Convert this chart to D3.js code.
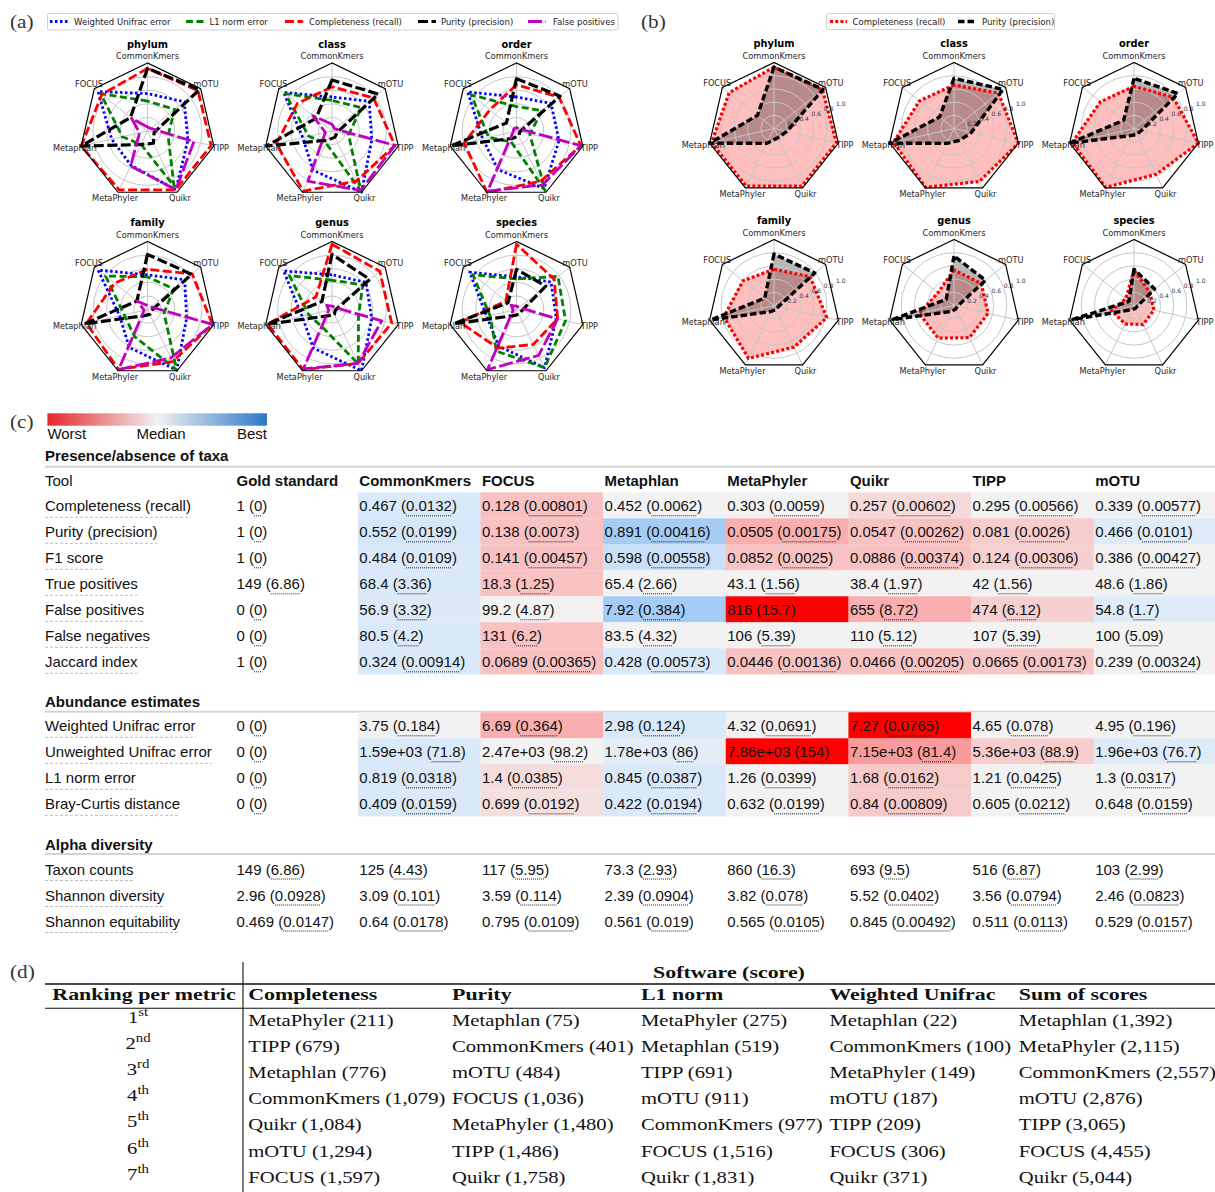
<!DOCTYPE html>
<html><head><meta charset="utf-8"><title>Taxonomic profiler benchmark</title>
<script src="https://cdn.jsdelivr.net/npm/d3@7"></script>
<style>
html,body{margin:0;padding:0;background:#fff;}
svg{display:block;}
</style></head>
<body>
<svg id="fig" width="1215" height="1192" xmlns="http://www.w3.org/2000/svg"></svg>
<script>
// ---------------- data ----------------
const tools = ["CommonKmers", "FOCUS", "Metaphlan", "MetaPhyler", "Quikr", "TIPP", "mOTU"];
const ranks = ["phylum", "class", "order", "family", "genus", "species"];

// (a) relative scores per rank (rows: ranks, columns: tools)
const weightedUnifracScore = [
  [0.55, 0.93, 0.54, 0.56, 0.96, 0.61, 0.69],
  [0.50, 0.91, 0.44, 0.64, 1.00, 0.60, 0.70],
  [0.50, 0.92, 0.51, 0.63, 0.94, 0.64, 0.65],
  [0.51, 0.93, 0.42, 0.62, 0.99, 0.59, 0.70],
  [0.51, 0.91, 0.45, 0.63, 1.00, 0.60, 0.64],
  [0.48, 0.88, 0.45, 0.60, 0.95, 0.60, 0.65]
];
const l1NormScore = [
  [0.44, 0.88, 0.38, 0.22, 0.90, 0.31, 0.51],
  [0.45, 0.88, 0.35, 0.20, 0.98, 0.25, 0.55],
  [0.36, 0.85, 0.42, 0.18, 0.97, 0.20, 0.48],
  [0.48, 0.79, 0.35, 0.44, 0.99, 0.25, 0.49],
  [0.43, 0.80, 0.35, 0.30, 0.89, 0.40, 0.58],
  [0.45, 0.82, 0.40, 0.68, 0.95, 0.74, 0.78]
];
const completenessScore = [
  [0.92, 0.86, 1.00, 0.96, 0.96, 0.96, 0.95],
  [0.65, 0.65, 0.84, 0.98, 0.82, 0.95, 0.78],
  [0.68, 0.50, 0.79, 1.00, 0.82, 0.97, 0.80],
  [0.59, 0.62, 0.92, 0.98, 0.85, 0.98, 0.84],
  [0.96, 0.30, 0.97, 0.98, 0.88, 0.90, 0.90],
  [0.96, 0.20, 0.85, 0.63, 0.57, 0.62, 0.71]
];
const purityScore = [
  [0.92, 0.32, 1.00, 0.22, 0.20, 0.10, 0.98],
  [0.75, 0.30, 0.99, 0.15, 0.10, 0.08, 0.87],
  [0.77, 0.19, 0.99, 0.12, 0.08, 0.05, 0.82],
  [0.81, 0.20, 0.95, 0.10, 0.08, 0.06, 0.83],
  [0.81, 0.19, 0.98, 0.10, 0.08, 0.05, 0.71],
  [0.59, 0.16, 0.95, 0.10, 0.08, 0.08, 0.55]
];
const falsePositiveScore = [
  [0.06, 0.30, 0.12, 0.57, 0.96, 0.70, 0.06],
  [0.10, 0.36, 0.10, 0.82, 0.97, 0.95, 0.05],
  [0.05, 0.05, 0.05, 0.98, 0.88, 0.97, 0.05],
  [0.06, 0.20, 0.05, 0.98, 0.79, 0.98, 0.06],
  [0.05, 0.10, 0.05, 0.97, 0.88, 0.75, 0.05],
  [0.05, 0.10, 0.05, 0.98, 0.75, 0.62, 0.05]
];

// (b) absolute completeness and purity per rank
const completenessAbs = [
  [0.93, 0.87, 0.97, 0.97, 0.97, 0.97, 0.94],
  [0.66, 0.67, 0.94, 0.99, 0.89, 1.00, 0.86],
  [0.64, 0.65, 0.96, 0.99, 0.77, 1.00, 0.76],
  [0.55, 0.60, 0.78, 0.89, 0.70, 0.82, 0.70],
  [0.54, 0.31, 0.54, 0.55, 0.54, 0.53, 0.53],
  [0.54, 0.16, 0.35, 0.31, 0.32, 0.31, 0.31]
];
const purityAbs = [
  [0.93, 0.32, 1.00, 0.25, 0.15, 0.20, 0.95],
  [0.76, 0.28, 1.00, 0.25, 0.20, 0.27, 0.95],
  [0.76, 0.20, 1.00, 0.12, 0.10, 0.12, 0.85],
  [0.78, 0.18, 0.98, 0.10, 0.07, 0.07, 0.79],
  [0.75, 0.15, 0.95, 0.10, 0.06, 0.05, 0.61],
  [0.55, 0.10, 0.95, 0.07, 0.05, 0.05, 0.40]
];
const gridLevels = [0.2, 0.4, 0.6, 0.8];
const radialTickLabels = ["0.2", "0.4", "0.6", "0.8", "1.0"];

// (c) summary table: mean and standard error, first column is the gold standard
const tableColumns = ["Gold standard", "CommonKmers", "FOCUS", "Metaphlan", "MetaPhyler", "Quikr", "TIPP", "mOTU"];
const presenceMetrics = ["Completeness (recall)", "Purity (precision)", "F1 score", "True positives", "False positives", "False negatives", "Jaccard index"];
const presenceMeans = [
  ["1", "0.467", "0.128", "0.452", "0.303", "0.257", "0.295", "0.339"],
  ["1", "0.552", "0.138", "0.891", "0.0505", "0.0547", "0.081", "0.466"],
  ["1", "0.484", "0.141", "0.598", "0.0852", "0.0886", "0.124", "0.386"],
  ["149", "68.4", "18.3", "65.4", "43.1", "38.4", "42", "48.6"],
  ["0", "56.9", "99.2", "7.92", "816", "655", "474", "54.8"],
  ["0", "80.5", "131", "83.5", "106", "110", "107", "100"],
  ["1", "0.324", "0.0689", "0.428", "0.0446", "0.0466", "0.0665", "0.239"]
];
const presenceErrors = [
  ["0", "0.0132", "0.00801", "0.0062", "0.0059", "0.00602", "0.00566", "0.00577"],
  ["0", "0.0199", "0.0073", "0.00416", "0.00175", "0.00262", "0.0026", "0.0101"],
  ["0", "0.0109", "0.00457", "0.00558", "0.0025", "0.00374", "0.00306", "0.00427"],
  ["6.86", "3.36", "1.25", "2.66", "1.56", "1.97", "1.56", "1.86"],
  ["0", "3.32", "4.87", "0.384", "15.7", "8.72", "6.12", "1.7"],
  ["0", "4.2", "6.2", "4.32", "5.39", "5.12", "5.39", "5.09"],
  ["0", "0.00914", "0.00365", "0.00573", "0.00136", "0.00205", "0.00173", "0.00324"]
];
// rank-based shading: -1 worst, 0 median, +1 best (tools only)
const presenceShade = [
  [0.5, -0.5, 0, 0, -0.25, 0, 0],
  [0.55, -0.5, 1, -0.55, -0.5, -0.4, 0.4],
  [0.5, -0.5, 0.65, -0.5, -0.5, -0.35, 0],
  [0.5, -0.5, 0, 0, 0, 0, 0],
  [0.45, 0, 1, -1, -0.55, -0.35, 0.4],
  [0.5, -0.5, 0, 0, 0, 0, 0],
  [0.5, -0.5, 0.5, -0.5, -0.5, -0.45, 0]
];
const abundanceMetrics = ["Weighted Unifrac error", "Unweighted Unifrac error", "L1 norm error", "Bray-Curtis distance"];
const abundanceMeans = [
  ["0", "3.75", "6.69", "2.98", "4.32", "7.27", "4.65", "4.95"],
  ["0", "1.59e+03", "2.47e+03", "1.78e+03", "7.86e+03", "7.15e+03", "5.36e+03", "1.96e+03"],
  ["0", "0.819", "1.4", "0.845", "1.26", "1.68", "1.21", "1.3"],
  ["0", "0.409", "0.699", "0.422", "0.632", "0.84", "0.605", "0.648"]
];
const abundanceErrors = [
  ["0", "0.184", "0.364", "0.124", "0.0691", "0.0765", "0.078", "0.196"],
  ["0", "71.8", "98.2", "86", "154", "81.4", "88.9", "76.7"],
  ["0", "0.0318", "0.0385", "0.0387", "0.0399", "0.0162", "0.0425", "0.0317"],
  ["0", "0.0159", "0.0192", "0.0194", "0.0199", "0.00809", "0.0212", "0.0159"]
];
const abundanceShade = [
  [0, -0.55, 0.5, 0, -1, 0, 0],
  [0.5, 0, 0.3, -1, -0.6, -0.4, 0.4],
  [0.5, -0.22, 0.5, 0, -0.42, 0, 0],
  [0.5, -0.2, 0.5, 0, -0.42, 0, 0]
];
const alphaMetrics = ["Taxon counts", "Shannon diversity", "Shannon equitability"];
const alphaMeans = [
  ["149", "125", "117", "73.3", "860", "693", "516", "103"],
  ["2.96", "3.09", "3.59", "2.39", "3.82", "5.52", "3.56", "2.46"],
  ["0.469", "0.64", "0.795", "0.561", "0.565", "0.845", "0.511", "0.529"]
];
const alphaErrors = [
  ["6.86", "4.43", "5.95", "2.93", "16.3", "9.5", "6.87", "2.99"],
  ["0.0928", "0.101", "0.114", "0.0904", "0.078", "0.0402", "0.0794", "0.0823"],
  ["0.0147", "0.0178", "0.0109", "0.019", "0.0105", "0.00492", "0.0113", "0.0157"]
];

// (d) ranking per metric: [tool, score]
const rankNumbers = ["1", "2", "3", "4", "5", "6", "7"];
const rankSuffixes = ["st", "nd", "rd", "th", "th", "th", "th"];
const rankingMetrics = ["Completeness", "Purity", "L1 norm", "Weighted Unifrac", "Sum of scores"];
const completenessRanking = [["MetaPhyler", 211], ["TIPP", 679], ["Metaphlan", 776], ["CommonKmers", 1079], ["Quikr", 1084], ["mOTU", 1294], ["FOCUS", 1597]];
const purityRanking = [["Metaphlan", 75], ["CommonKmers", 401], ["mOTU", 484], ["FOCUS", 1036], ["MetaPhyler", 1480], ["TIPP", 1486], ["Quikr", 1758]];
const l1Ranking = [["MetaPhyler", 275], ["Metaphlan", 519], ["TIPP", 691], ["mOTU", 911], ["CommonKmers", 977], ["FOCUS", 1516], ["Quikr", 1831]];
const unifracRanking = [["Metaphlan", 22], ["CommonKmers", 100], ["MetaPhyler", 149], ["mOTU", 187], ["TIPP", 209], ["FOCUS", 306], ["Quikr", 371]];
const sumRanking = [["Metaphlan", 1392], ["MetaPhyler", 2115], ["CommonKmers", 2557], ["mOTU", 2876], ["TIPP", 3065], ["FOCUS", 4455], ["Quikr", 5044]];

// ---------------- drawing ----------------
const SANS = "'Liberation Sans', Arial, sans-serif";
const MPL = "'DejaVu Sans', sans-serif";
const SERIF = "'Liberation Serif', 'Times New Roman', serif";
const svg = d3.select("#fig");
const N = tools.length;
const angleOf = i => -i * 2 * Math.PI / N;   // counter-clockwise, first axis at the top

// serif text, widened to the proportions of the typeset tables
function serif(g, x, y, str, o = {}) {
  const k = o.bold ? 1.37 : (o.scale || 1.29);
  return g.append("text")
    .attr("transform", `translate(${x},${y}) scale(${k},1)`)
    .attr("text-anchor", o.anchor || "start")
    .attr("font-family", SERIF)
    .attr("font-size", o.size || 16)
    .attr("font-weight", o.bold ? "bold" : "normal")
    .attr("fill", o.fill || "#111")
    .text(str);
}

// panel letters
[["(a)", 10, 28], ["(b)", 641, 28], ["(c)", 10, 428], ["(d)", 10, 978]].forEach(([t, x, y]) =>
  serif(svg, x, y, t, { size: 18, scale: 1.18, fill: "#333" }));

function radarBase(g, r, R) {
  g.selectAll("circle.grid").data(gridLevels).join("circle")
    .attr("class", "grid").attr("r", d => r(d))
    .attr("fill", "none").attr("stroke", "#c6c6c6").attr("stroke-width", 1);
  g.selectAll("line.spoke").data(tools).join("line")
    .attr("class", "spoke")
    .attr("x2", (d, i) => d3.pointRadial(angleOf(i), r(1))[0])
    .attr("y2", (d, i) => d3.pointRadial(angleOf(i), r(1))[1])
    .attr("stroke", "#c6c6c6").attr("stroke-width", 1);
}
function radarFrame(g, r, title) {
  const line = d3.lineRadial().angle((d, i) => angleOf(i)).radius(d => r(d)).curve(d3.curveLinearClosed);
  g.append("path").attr("d", line(tools.map(() => 1)))
    .attr("fill", "none").attr("stroke", "#000").attr("stroke-width", 1.2);
  g.selectAll("text.axis").data(tools).join("text")
    .attr("class", "axis")
    .attr("x", (d, i) => d3.pointRadial(angleOf(i), r(1.1))[0])
    .attr("y", (d, i) => d3.pointRadial(angleOf(i), r(1.1))[1])
    .attr("text-anchor", "middle").attr("dominant-baseline", "central")
    .attr("font-family", MPL).attr("font-size", 8.2).attr("fill", "#262626")
    .text(d => d);
  g.append("text").attr("y", -r(1.1) - 12).attr("text-anchor", "middle")
    .attr("dominant-baseline", "central")
    .attr("font-family", MPL).attr("font-weight", "bold").attr("font-size", 9.8)
    .attr("fill", "#000").text(title);
}
function radialPath(r) {
  return d3.lineRadial().angle((d, i) => angleOf(i)).radius(d => r(d)).curve(d3.curveLinearClosed);
}

// ----- panel (a)
const seriesA = [
  { name: "Weighted Unifrac error", values: weightedUnifracScore, color: "#0000ff", dash: "2.5,2.5", width: 2.8 },
  { name: "L1 norm error", values: l1NormScore, color: "#008000", dash: "7,3.5", width: 2.8 },
  { name: "Completeness (recall)", values: completenessScore, color: "#ff0000", dash: "9,3.5", width: 2.8 },
  { name: "Purity (precision)", values: purityScore, color: "#000000", dash: "10,3.5", width: 3.2 },
  { name: "False positives", values: falsePositiveScore, color: "#bf00bf", dash: "14,3.5", width: 2.8 }
];
const aCx = [147.5, 332, 516.5], aCy = [131, 309.5], aR = 68;
const rA = d3.scaleLinear().domain([0, 1]).range([0, aR]);
ranks.forEach((rank, k) => {
  const g = svg.append("g").attr("transform", `translate(${aCx[k % 3]},${aCy[Math.floor(k / 3)]})`);
  radarBase(g, rA, aR);
  seriesA.forEach(s => {
    g.append("path").attr("d", radialPath(rA)(s.values[k]))
      .attr("fill", "none").attr("stroke", s.color).attr("stroke-width", s.width)
      .attr("stroke-dasharray", s.dash).attr("stroke-linejoin", "round");
  });
  radarFrame(g, rA, rank);
});
// legend (a)
const legA = svg.append("g");
legA.append("rect").attr("x", 47.5).attr("y", 13.5).attr("width", 570.5).attr("height", 16.5)
  .attr("rx", 2).attr("fill", "#fff").attr("stroke", "#cfcfcf").attr("stroke-width", 1);
const legASample = [50, 186, 285, 418, 528], legAText = [74, 209.5, 309, 441, 553];
seriesA.forEach((s, i) => {
  legA.append("line").attr("x1", legASample[i]).attr("x2", legASample[i] + 18).attr("y1", 21.5).attr("y2", 21.5)
    .attr("stroke", s.color).attr("stroke-width", s.width).attr("stroke-dasharray", s.dash);
  legA.append("text").attr("x", legAText[i]).attr("y", 21.8).attr("dominant-baseline", "central")
    .attr("font-family", MPL).attr("font-size", 8.5).attr("fill", "#222").text(s.name);
});

// ----- panel (b)
const seriesB = [
  { name: "Completeness (recall)", values: completenessAbs, color: "#ff0000", fill: "rgba(255,0,0,0.25)", dash: "3,2.2", width: 3.2 },
  { name: "Purity (precision)", values: purityAbs, color: "#000000", fill: "rgba(0,0,0,0.28)", dash: "6.5,3", width: 3.4 }
];
const bCx = [774, 954, 1134], bCy = [128.5, 305.5], bR = 66;
const rB = d3.scaleLinear().domain([0, 1]).range([0, bR]);
ranks.forEach((rank, k) => {
  const g = svg.append("g").attr("transform", `translate(${bCx[k % 3]},${bCy[Math.floor(k / 3)]})`);
  seriesB.forEach(s => g.append("path").attr("d", radialPath(rB)(s.values[k])).attr("fill", s.fill).attr("stroke", "none"));
  radarBase(g, rB, bR);
  seriesB.forEach(s => {
    g.append("path").attr("d", radialPath(rB)(s.values[k]))
      .attr("fill", "none").attr("stroke", s.color).attr("stroke-width", s.width)
      .attr("stroke-dasharray", s.dash).attr("stroke-linejoin", "round");
  });
  const tickAngle = Math.PI / 2 - Math.PI / 8;
  radialTickLabels.forEach(t => {
    const p = d3.pointRadial(tickAngle, rB(+t));
    g.append("text").attr("x", p[0] + 1).attr("y", p[1]).attr("dominant-baseline", "central")
      .attr("font-family", MPL).attr("font-size", 6).attr("fill", "#333").text(t);
  });
  radarFrame(g, rB, rank);
});
const legB = svg.append("g");
legB.append("rect").attr("x", 826.5).attr("y", 13.5).attr("width", 228).attr("height", 16)
  .attr("rx", 2).attr("fill", "#fff").attr("stroke", "#cfcfcf").attr("stroke-width", 1);
const legBSample = [830, 958], legBText = [852.5, 982];
seriesB.forEach((s, i) => {
  legB.append("line").attr("x1", legBSample[i]).attr("x2", legBSample[i] + 17).attr("y1", 21.5).attr("y2", 21.5)
    .attr("stroke", s.color).attr("stroke-width", s.width).attr("stroke-dasharray", s.dash);
  legB.append("text").attr("x", legBText[i]).attr("y", 21.8).attr("dominant-baseline", "central")
    .attr("font-family", MPL).attr("font-size", 8.5).attr("fill", "#222").text(s.name);
});

// ----- panel (c)
const cellColor = d3.scaleLinear().domain([-1, -0.5, 0, 0.5, 1])
  .range(["#ff0000", "#f8c2c2", "#f2f2f2", "#dae9f9", "#a5ccf4"]);
const defs = svg.append("defs");
const grad = defs.append("linearGradient").attr("id", "rankbar");
[[0, "#e4262a"], [0.5, "#f2f2f2"], [1, "#2b78c9"]].forEach(([o, c]) =>
  grad.append("stop").attr("offset", o).attr("stop-color", c));
svg.append("rect").attr("x", 47.4).attr("y", 413.3).attr("width", 219.6).attr("height", 12.4).attr("fill", "url(#rankbar)");
const barLabels = [["Worst", 47.4, "start"], ["Median", 136.4, "start"], ["Best", 267, "end"]];
barLabels.forEach(([t, x, a]) => svg.append("text").attr("x", x).attr("y", 438.5).attr("text-anchor", a)
  .attr("font-family", SANS).attr("font-size", 15).attr("fill", "#111").text(t));

const colX = [236.5].concat(d3.range(7).map(i => 357.8 + i * 122.65));
const colW = 122.65;
const tbl = svg.append("g").attr("font-family", SANS).attr("font-size", 15).attr("fill", "#111");

function sectionHeader(title, baseline, ruleY) {
  tbl.append("text").attr("x", 45).attr("y", baseline).attr("font-weight", "bold").text(title);
  tbl.append("rect").attr("x", 45).attr("y", ruleY - 1).attr("width", 1170).attr("height", 2).attr("fill", "#d3d3d3");
}
function valueText(x, y, mean, err) {
  const t = tbl.append("text").attr("x", x).attr("y", y).text(`${mean} (${err})`);
  const pre = `${mean} (`.length;
  const node = t.node();
  const x0 = x + node.getSubStringLength(0, pre);
  const w = node.getSubStringLength(pre, err.length);
  tbl.append("line").attr("x1", x0).attr("x2", x0 + w).attr("y1", y + 4.5).attr("y2", y + 4.5)
    .attr("stroke", "#222").attr("stroke-width", 1).attr("stroke-dasharray", "1,1");
}
function labelText(y, str) {
  const t = tbl.append("text").attr("x", 45).attr("y", y).text(str);
  const w = t.node().getComputedTextLength();
  tbl.append("line").attr("x1", 45).attr("x2", 45 + w).attr("y1", y + 6).attr("y2", y + 6)
    .attr("stroke", "#bdbdbd").attr("stroke-width", 1).attr("stroke-dasharray", "3,2");
}
function bodyRows(top, metrics, means, errors, shade) {
  metrics.forEach((m, r) => {
    const y0 = top + r * 26;
    if (shade) shade[r].forEach((s, c) =>
      tbl.append("rect").attr("x", colX[c + 1]).attr("y", y0).attr("width", colW + 0.4).attr("height", 26.2)
        .attr("fill", cellColor(s)));
  });
  metrics.forEach((m, r) => {
    const yb = top + r * 26 + 19;
    labelText(yb, m);
    means[r].forEach((v, c) => valueText(colX[c] + (c === 0 ? 0 : 1.5), yb, v, errors[r][c]));
  });
}

sectionHeader("Presence/absence of taxa", 460.5, 466.7);
tbl.append("text").attr("x", 45).attr("y", 486).text("Tool");
tableColumns.forEach((c, i) => tbl.append("text").attr("x", colX[i] + (i === 0 ? 0 : 1.5)).attr("y", 486)
  .attr("font-weight", "bold").text(c));
bodyRows(492.3, presenceMetrics, presenceMeans, presenceErrors, presenceShade);

sectionHeader("Abundance estimates", 707, 711.7);
bodyRows(712.3, abundanceMetrics, abundanceMeans, abundanceErrors, abundanceShade);

sectionHeader("Alpha diversity", 849.5, 854);
bodyRows(855.5, alphaMetrics, alphaMeans, alphaErrors, null);

// ----- panel (d)
const dG = svg.append("g");
const rankingCols = [completenessRanking, purityRanking, l1Ranking, unifracRanking, sumRanking];
const rankingX = [248.3, 452, 641, 829.4, 1018.8];
const fmt = d3.format(",");
dG.append("line").attr("x1", 243).attr("x2", 243).attr("y1", 962).attr("y2", 1192).attr("stroke", "#111").attr("stroke-width", 1.1);
dG.append("line").attr("x1", 45).attr("x2", 1215).attr("y1", 984).attr("y2", 984).attr("stroke", "#111").attr("stroke-width", 1.3);
dG.append("line").attr("x1", 45).attr("x2", 1215).attr("y1", 1008.3).attr("y2", 1008.3).attr("stroke", "#111").attr("stroke-width", 1.1);
serif(dG, 729, 978, "Software (score)", { bold: true, anchor: "middle" });
serif(dG, 144, 1000, "Ranking per metric", { bold: true, anchor: "middle" });
rankingMetrics.forEach((m, i) => serif(dG, rankingX[i], 1000, m, { bold: true }));
rankNumbers.forEach((n, r) => {
  const yb = 1026 + r * 26.1;
  const t = serif(dG, 138, yb - 3, "", { anchor: "middle" });
  t.append("tspan").text(n);
  t.append("tspan").attr("font-size", 11.5).attr("dy", -7).text(rankSuffixes[r]);
  rankingCols.forEach((col, c) => serif(dG, rankingX[c], yb, `${col[r][0]} (${fmt(col[r][1])})`));
});
</script>
</body></html>
